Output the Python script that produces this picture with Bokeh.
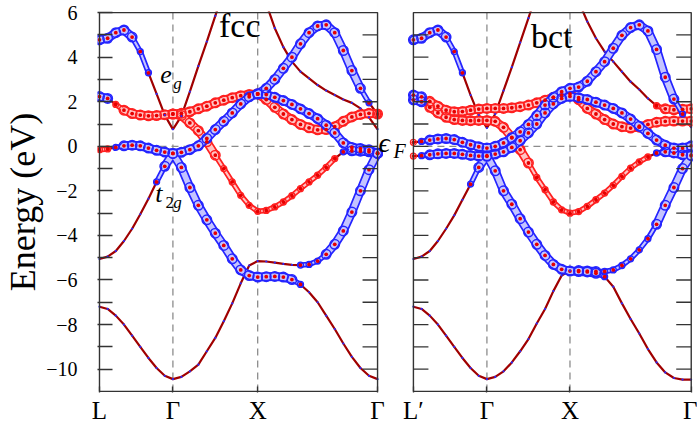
import numpy as np
from bokeh.plotting import figure
from bokeh.models import Range1d, FixedTicker
from bokeh.core.properties import value
from bokeh.embed import file_html
from bokeh.resources import INLINE

N = None
# ---------------- data ----------------
FCC_SYM_K = [0.0, 0.866, 1.866, 3.280]
BCT_SYM_K = [0.0, 0.885, 1.885, 3.345]
FCC_LABELS = ["L", "Γ", "X", "Γ"]
BCT_LABELS = ["L′", "Γ", "X", "Γ"]
SEG_SAMPLES = [10, 11, 15]          # samples per segment (shared end points)

# fcc bands: energies (eV) along L-Γ | Γ-X | X-Γ ; character: B/b t2g, R/r eg, - none
fcc_A = [-7.2, -7.3, -7.6, -8.0, -8.5, -9.0, -9.5, -9.95, -10.3, -10.45,
         -10.35, -10.1, -9.8, -9.2, -8.6, -7.85, -7.05, -6.15, -5.35, -5.15,
         -5.17, -5.22, -5.28, -5.32, -5.33, -5.3, -5.15, -4.85, -4.4, -3.8, -2.95, -2.0, -1.05, -0.3]
fcc_A_chr = "----------" "----------" "----bbbBBBBBBB"
fcc_B = [-5.06, -4.95, -4.7, -4.25, -3.7, -3.05, -2.35, -1.6, -0.9, -0.32,
         -0.95, -1.85, -2.65, -3.3, -3.9, -4.45, -5.05, -5.55, -5.8, -5.87,
         -5.85, -5.84, -5.87, -5.98, -6.2, -6.55, -7.0, -7.6, -8.2, -8.85, -9.45, -9.95, -10.3, -10.45]
fcc_B_chr = "-------bBB" "BBBBBBBBBB" "BBBBb---------"
fcc_D = [-0.15, -0.12, -0.05, 0.02, 0.05, 0.02, -0.08, -0.18, -0.26, -0.32,
         -0.27, -0.15, 0.02, 0.35, 0.75, 1.12, 1.5, 1.9, 2.22, 2.35,
         2.32, 2.2, 2.05, 1.88, 1.68, 1.47, 1.24, 0.95, 0.6, 0.15, -0.05, -0.1, -0.16, -0.32]
fcc_D_chr = "rrbBBBBBBB" "BBBBBBBBBB" "BBBBBBBBBBBBBB"
fcc_E = [2.23, 2.15, 1.88, 1.62, 1.47, 1.4, 1.37, 1.38, 1.42, 1.45,
         1.48, 1.55, 1.68, 1.8, 1.95, 2.07, 2.18, 2.27, 2.33, 2.35,
         2.1, 1.75, 1.45, 1.2, 0.98, 0.83, 0.74, 0.75, 0.88, 1.12, 1.32, 1.43, 1.48, 1.45]
fcc_E_chr = "BBrRRRRRRR" "RRRRRRRRRR" "RRRRRRRRRRRRRR"
fcc_H = [N, N, N, N, N, N, N, N, N, 1.45,
         1.38, 1.05, 0.7, 0.2, -0.4, -1.0, -1.6, -2.2, -2.65, -2.92,
         -2.88, -2.72, -2.5, -2.22, -1.9, -1.6, -1.3, -0.95, -0.55, -0.25, -0.2, -0.22, -0.25, -0.32]
fcc_H_chr = "---------R" "RRRRRrrrrr" "rrrrrrrrrbBBBB"
fcc_F = [4.78, 4.85, 5.1, 5.22, 4.9, 4.25, 3.3, 2.35, 1.4, 0.76,
         1.35, 2.45, 3.6, 4.7, 5.85, 7.0, 7.8, 8.2, 8.0, 7.5,
         6.4, 5.3, 4.45, 3.8, 3.35, 3.05, 2.75, 2.5, 2.3, 2.1, 1.95, 1.7, 1.3, 0.76]
fcc_F_chr = "BBBBBbb---" "----------" "--------------"
fcc_G = [N, N, N, N, N, N, N, N, N, N,
         N, N, N, N, N, N, N, N, N, 2.35,
         2.6, 3.0, 3.5, 4.0, 4.6, 5.1, 5.4, 5.45, 5.1, 4.3, 3.4, 2.6, 1.95, 1.45]
fcc_G_chr = "----------" "---------B" "BBBBBBBBBBBBbr"

# bct bands along L'-Γ | Γ-X | X-Γ
bct_A = [-7.2, -7.3, -7.6, -8.0, -8.5, -9.0, -9.5, -9.95, -10.3, -10.45,
         -10.35, -10.1, -9.7, -9.2, -8.65, -7.95, -7.3, -6.5, -5.8, -5.58,
         -5.58, -5.6, -5.62, -5.62, -5.55, -5.35, -5.05, -4.65, -4.15, -3.5, -2.65, -1.85, -1.0, -0.4]
bct_A_chr = "----------" "----------" "BBBbbbbbbBBBBB"
bct_B = [-5.06, -4.95, -4.7, -4.25, -3.7, -3.1, -2.4, -1.7, -0.95, -0.42,
         -1.1, -2.0, -2.6, -3.25, -3.85, -4.4, -4.9, -5.3, -5.52, -5.6,
         -5.62, -5.64, -5.7, -5.85, -6.3, -7.05, -7.75, -8.4, -9.1, -9.7, -10.15, -10.4, -10.47, -10.47]
bct_B_chr = "-------bBB" "BBBBBBBBBB" "BBBb----------"
bct_D1 = [0.18, 0.22, 0.28, 0.33, 0.35, 0.3, 0.18, 0.07, -0.02, -0.08,
          0.0, 0.15, 0.38, 0.65, 0.98, 1.38, 1.85, 2.2, 2.45, 2.6,
          2.66, 2.92, 3.35, 3.8, 4.4, 4.98, 5.33, 5.45, 5.18, 4.35, 3.1, 2.12, 1.45, 0.85]
bct_D1_chr = "rbBBBBBBBB" "BBBBBBBBBB" "BBBBBBBBBBBBb-"
bct_D2 = [-0.44, -0.42, -0.38, -0.34, -0.32, -0.32, -0.36, -0.41, -0.44, -0.45,
          -0.35, -0.25, -0.05, 0.25, 0.6, 1.0, 1.5, 1.9, 2.15, 2.24,
          2.18, 2.1, 1.98, 1.85, 1.7, 1.5, 1.22, 0.9, 0.58, 0.28, 0.05, -0.08, -0.08, 0.02]
bct_D2_chr = "rbBBBBBBBB" "BBBBBBBBBB" "BBBBBBBBBBBBBB"
bct_E1 = [2.3, 2.22, 2.02, 1.8, 1.62, 1.55, 1.56, 1.62, 1.67, 1.7,
          1.7, 1.7, 1.73, 1.78, 1.85, 1.95, 2.07, 2.2, 2.3, 2.35,
          2.1, 1.7, 1.45, 1.2, 1.0, 0.88, 0.82, 0.86, 0.98, 1.08, 1.12, 1.13, 1.13, 1.13]
bct_E1_chr = "BBRRRRRRRR" "RRRRRRRRRR" "RRRRRRRRRRRRRR"
bct_E2 = [2.08, 2.0, 1.75, 1.5, 1.3, 1.2, 1.16, 1.15, 1.16, 1.16,
          1.12, 0.85, 0.4, -0.15, -0.75, -1.4, -1.95, -2.5, -2.85, -3.0,
          -2.93, -2.7, -2.4, -2.1, -1.75, -1.35, -0.98, -0.7, -0.48, -0.3, -0.25, -0.3, -0.38, -0.42]
bct_E2_chr = "BBRRRRRRRR" "RRRRRrrrrr" "rrrrrrrrrbBBBB"
bct_F = [4.78, 4.85, 5.1, 5.22, 4.9, 4.25, 3.3, 2.3, 1.4, 0.82,
         1.45, 2.5, 3.55, 4.65, 5.75, 6.9, 7.8, 8.3, 8.2, 7.6,
         6.5, 5.6, 4.85, 4.25, 3.8, 3.35, 2.9, 2.55, 2.15, 1.82, 1.68, 1.64, 1.66, 1.68]
bct_F_chr = "BBBBBbb---" "----------" "---------rRRRR"

FCC_BANDS = [(fcc_A, fcc_A_chr), (fcc_B, fcc_B_chr), (fcc_D, fcc_D_chr), (fcc_E, fcc_E_chr),
             (fcc_H, fcc_H_chr), (fcc_F, fcc_F_chr), (fcc_G, fcc_G_chr)]
BCT_BANDS = [(bct_A, bct_A_chr), (bct_B, bct_B_chr), (bct_D1, bct_D1_chr), (bct_D2, bct_D2_chr),
             (bct_E1, bct_E1_chr), (bct_E2, bct_E2_chr), (bct_F, bct_F_chr)]

Y_TICKS = list(range(-10, 7))
Y_LABELED = [6, 4, 2, 0, -2, -4, -6, -8, -10]
E_MIN, E_MAX = -11, 6

# ---------------- layout helpers ----------------
L0, L1 = 0.0, 3.28      # left panel extent (data)
R0, R1 = 3.703, 6.980   # right panel extent (data)


def to_left(k):
    return np.asarray(k, dtype=float)


def to_right(k):
    return R0 + np.asarray(k, dtype=float) * (R1 - R0) / BCT_SYM_K[-1]


def kgrid(sym):
    ks = list(np.linspace(sym[0], sym[1], SEG_SAMPLES[0]))
    ks += list(np.linspace(sym[1], sym[2], SEG_SAMPLES[1])[1:])
    ks += list(np.linspace(sym[2], sym[3], SEG_SAMPLES[2])[1:])
    return np.array(ks)


p = figure(width=697, height=426, output_backend="svg", toolbar_location=None,
           x_range=Range1d(-0.0235, 6.995), y_range=Range1d(-11.05, 6.05),
           min_border_left=95, min_border_right=5, min_border_top=11, min_border_bottom=0)
p.outline_line_color = None
p.xgrid.visible = False
p.ygrid.visible = False
p.background_fill_color = "white"

FONT = "Liberation Serif"
DASH = dict(line_color="#8c8c8c", line_width=1.3, line_dash="7 5")
EDGE = "#333333"
LINE_COL = "#a00000"

# dashed guides
for (lo, hi), sym, mp in [((L0, L1), FCC_SYM_K, to_left), ((R0, R1), BCT_SYM_K, to_right)]:
    xs = mp(sym[1:3])
    p.segment(x0=list(xs), y0=[E_MIN] * 2, x1=list(xs), y1=[E_MAX] * 2, **DASH)
    p.segment(x0=[lo], y0=[0], x1=[hi], y1=[0], **DASH)

WIDTH = {"B": 9.0, "b": 5.5, "R": 9.0, "r": 5.5}
tubes = {"blue": ([], [], [], [], []), "red": ([], [], [], [], [])}
marks = {c: ([], []) for c in "BbRr-"}
dots = ([], [])

for bands, sym, mp in [(FCC_BANDS, FCC_SYM_K, to_left), (BCT_BANDS, BCT_SYM_K, to_right)]:
    xk = mp(kgrid(sym))
    for vals, chars in bands:
        y = np.array([np.nan if v is None else v for v in vals], dtype=float)
        p.line(list(xk), list(y), line_color=LINE_COL, line_width=2.2)
        for i in range(len(y)):
            if np.isnan(y[i]):
                continue
            c = chars[i]
            marks[c][0].append(xk[i]); marks[c][1].append(y[i])
            if c != "-":
                dots[0].append(xk[i]); dots[1].append(y[i])
            if i + 1 < len(y) and not np.isnan(y[i + 1]):
                c2 = chars[i + 1]
                for col, grp in (("blue", "Bb"), ("red", "Rr")):
                    if c in grp and c2 in grp:
                        t = tubes[col]
                        t[0].append(xk[i]); t[1].append(y[i])
                        t[2].append(xk[i + 1]); t[3].append(y[i + 1])
                        t[4].append(min(WIDTH[c], WIDTH[c2]))

STY = {"red": ("#ff2020", "#ffc4c4"), "blue": ("#2424ff", "#c4c4ff")}
for col in ("red", "blue"):
    x0, y0, x1, y1, w = tubes[col]
    outer, inner = STY[col]
    p.segment(x0=x0, y0=y0, x1=x1, y1=y1, line_width=w, line_color=outer, line_cap="round")
    p.segment(x0=x0, y0=y0, x1=x1, y1=y1, line_width=[max(v - 3.4, 1.5) for v in w],
              line_color=inner, line_cap="round")
    big, small = ("R", "r") if col == "red" else ("B", "b")
    p.scatter(marks[big][0], marks[big][1], size=9.5, line_color=outer, fill_color=None, line_width=1.5)
    p.scatter(marks[small][0], marks[small][1], size=6, line_color=outer, fill_color=None, line_width=1.3)

p.scatter(dots[0], dots[1], size=3.8, line_color=None, fill_color="#e60000")
p.scatter(marks["-"][0], marks["-"][1], size=2.2, line_color=None, fill_color="#2a2aff")

# panel frames
p.quad(left=[L0, R0], right=[L1, R1], bottom=[E_MIN, E_MIN], top=[E_MAX, E_MAX],
       fill_color=None, line_color=EDGE, line_width=1.4)

# inward ticks on inner / right edges
TL = 0.177
tick_y = [t for t in Y_TICKS if E_MIN < t < E_MAX]
for x_edge, d in [(L1, -TL), (R0, TL), (R1, -TL)]:
    p.segment(x0=[x_edge] * len(tick_y), y0=tick_y, x1=[x_edge + d] * len(tick_y), y1=tick_y,
              line_color=EDGE, line_width=1.3)

# axes
p.axis.axis_line_color = None
p.yaxis.ticker = FixedTicker(ticks=Y_TICKS)
p.yaxis.major_label_overrides = {t: (str(t).replace("-", "−") if t in Y_LABELED else "") for t in Y_TICKS}
p.yaxis.major_tick_in = 15
p.yaxis.major_tick_out = 0
p.yaxis.major_tick_line_color = EDGE
p.yaxis.major_tick_line_width = 1.3
p.yaxis.major_label_text_font = FONT
p.yaxis.major_label_text_font_size = "20px"
p.yaxis.major_label_text_color = "black"
p.yaxis.major_label_standoff = 20
p.yaxis.axis_label = "Energy (eV)"
p.yaxis.axis_label_text_font = FONT
p.yaxis.axis_label_text_font_size = "36px"
p.yaxis.axis_label_text_font_style = "normal"
p.yaxis.axis_label_text_color = "black"
p.yaxis.axis_label_standoff = 0

xt = [round(float(v), 4) for v in list(to_left(FCC_SYM_K)) + list(to_right(BCT_SYM_K))]
p.xaxis.ticker = FixedTicker(ticks=xt)
p.xaxis.major_label_overrides = {v: s for v, s in zip(xt, FCC_LABELS + BCT_LABELS)}
p.xaxis.major_tick_in = 6
p.xaxis.major_tick_out = 0
p.xaxis.major_tick_line_color = EDGE
p.xaxis.major_tick_line_width = 1.3
p.xaxis.major_label_text_font = FONT
p.xaxis.major_label_text_font_size = "25px"
p.xaxis.major_label_text_color = "black"
p.xaxis.major_label_standoff = 4


def txt(x, y, s, size, style="normal"):
    p.text(x=[x], y=[y], text=[s], text_font=value(FONT), text_font_size=value(size),
           text_font_style=style, text_baseline="alphabetic", text_align="left", text_color="black")


txt(1.41, 5.4, "fcc", "34px")
txt(5.09, 4.95, "bct", "34px")
txt(0.717, 3.24, "e", "26px", "italic")
txt(0.87, 2.83, "g", "17px", "italic")
txt(0.658, -2.13, "t", "26px", "italic")
txt(0.78, -2.5, "2", "17px")
txt(0.87, -2.5, "g", "17px", "italic")
txt(3.292, 0.15, "ϵ", "28px", "italic")
txt(3.468, -0.21, "F", "20px", "italic")

open("out.html", "w").write(file_html(p, INLINE))
